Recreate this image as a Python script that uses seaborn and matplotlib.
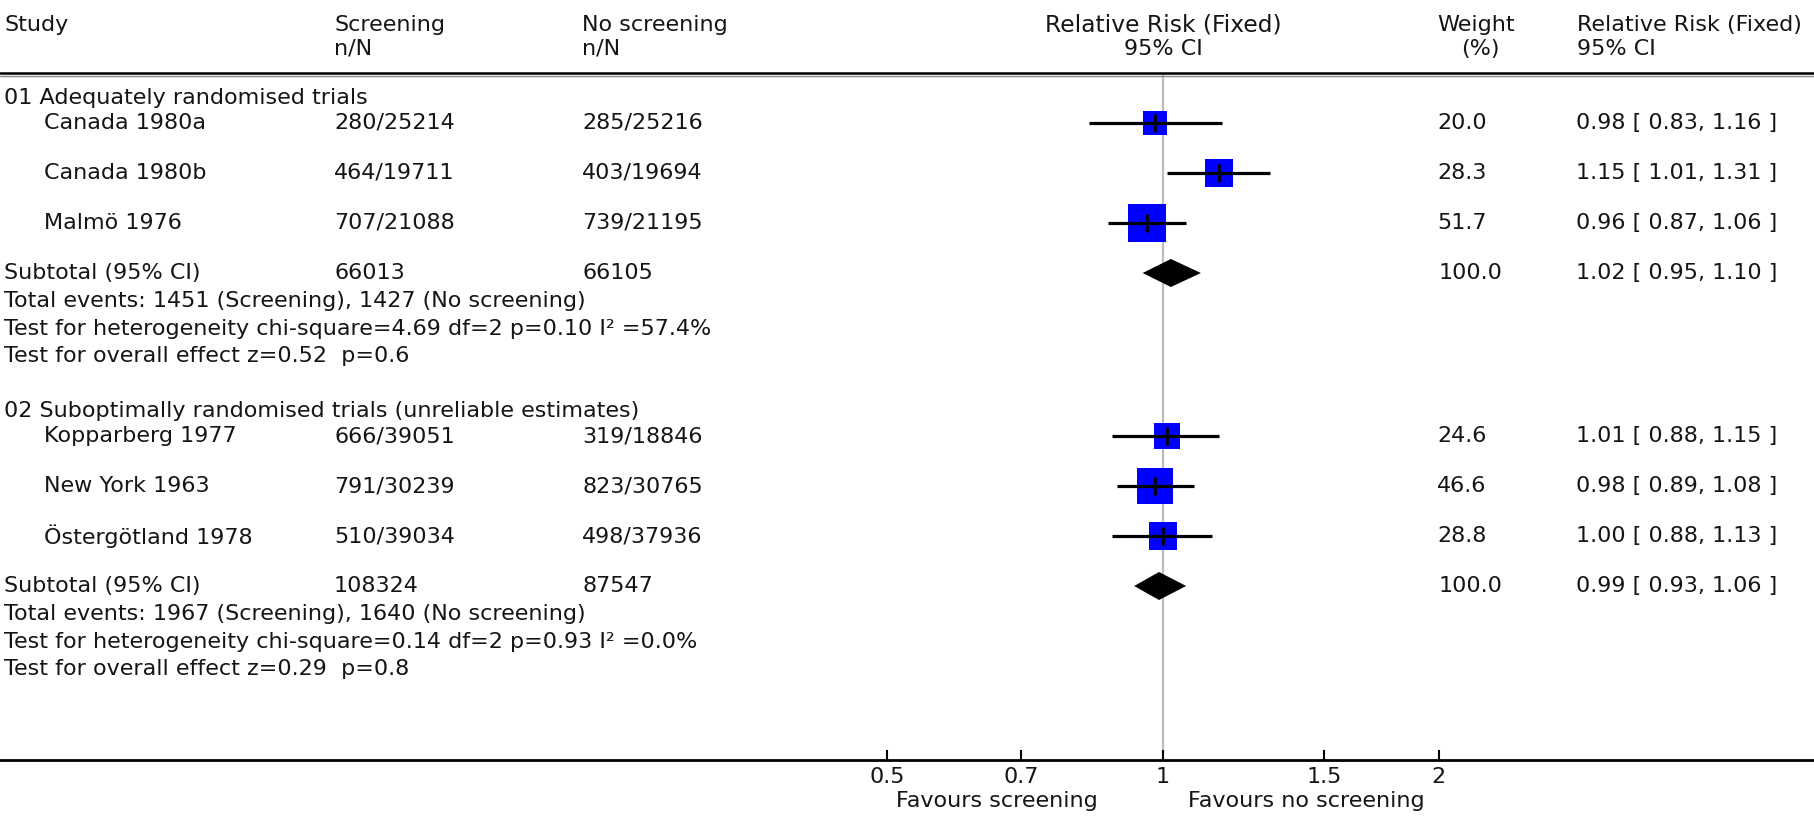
import numpy as np
import pandas as pd
import seaborn as sns
import matplotlib
matplotlib.use('Agg')
import matplotlib.pyplot as plt
from matplotlib import transforms

# data
groups = ['01 Adequately randomised trials',
          '02 Suboptimally randomised trials (unreliable estimates)']
studies = [['Canada 1980a', 'Canada 1980b', 'Malmö 1976'],
           ['Kopparberg 1977', 'New York 1963', 'Östergötland 1978']]
screen_nN = [['280/25214', '464/19711', '707/21088'],
             ['666/39051', '791/30239', '510/39034']]
noscreen_nN = [['285/25216', '403/19694', '739/21195'],
               ['319/18846', '823/30765', '498/37936']]
rr = [[0.98, 1.15, 0.96], [1.01, 0.98, 1.00]]
rr_lo = [[0.83, 1.01, 0.87], [0.88, 0.89, 0.88]]
rr_hi = [[1.16, 1.31, 1.06], [1.15, 1.08, 1.13]]
weight = [[20.0, 28.3, 51.7], [24.6, 46.6, 28.8]]
sub_screen_N = ['66013', '108324']
sub_noscreen_N = ['66105', '87547']
sub_rr = [1.02, 0.99]
sub_lo = [0.95, 0.93]
sub_hi = [1.10, 1.06]
total_events = ['Total events: 1451 (Screening), 1427 (No screening)',
                'Total events: 1967 (Screening), 1640 (No screening)']
heterogeneity = ['Test for heterogeneity chi-square=4.69 df=2 p=0.10 I\u00b2 =57.4%',
                 'Test for heterogeneity chi-square=0.14 df=2 p=0.93 I\u00b2 =0.0%']
overall = ['Test for overall effect z=0.52  p=0.6',
           'Test for overall effect z=0.29  p=0.8']
xticks = [0.5, 0.7, 1, 1.5, 2]
xtick_labels = ['0.5', '0.7', '1', '1.5', '2']

# layout (pixels)
W, H = 1814, 817
AXIS_Y = 760
X_ONE = 1163
PX_PER_LN = 397.5
FS = 16

sns.set_style('white')
plt.rcParams['font.family'] = ['DejaVu Sans']

fig = plt.figure(figsize=(W / 100, H / 100), dpi=100)
ax = fig.add_axes([0, (H - AXIS_Y) / H, 1, AXIS_Y / H])
ax.set_xscale('log')
ax.set_xlim(np.exp(-X_ONE / PX_PER_LN), np.exp((W - X_ONE) / PX_PER_LN))
ax.set_ylim(AXIS_Y, 0)

tr = transforms.blended_transform_factory(fig.transFigure, ax.transData)


def put(px, y, s, ha='left', fs=FS):
    ax.text(px / W, y, s, transform=tr, ha=ha, va='center', fontsize=fs, color='#151515')


# build row positions
rows = []
subs = []
labels_y = []
y = 98
for g in range(len(groups)):
    labels_y.append(y)
    y += 25
    for i in range(len(studies[g])):
        rows.append(dict(group=g, study=studies[g][i], s_nN=screen_nN[g][i], n_nN=noscreen_nN[g][i],
                         rr=rr[g][i], lo=rr_lo[g][i], hi=rr_hi[g][i], weight=weight[g][i], y=y))
        y += 50
    subs.append(y)
    y += 83 + 55
df = pd.DataFrame(rows)

# header
put(4, 25, 'Study')
put(334, 25, 'Screening')
put(334, 49, 'n/N')
put(582, 25, 'No screening')
put(582, 49, 'n/N')
put(X_ONE, 25, 'Relative Risk (Fixed)', ha='center', fs=16.8)
put(X_ONE, 49, '95% CI', ha='center')
put(1476, 25, 'Weight', ha='center')
put(1480, 49, '(%)', ha='center')
put(1577, 25, 'Relative Risk (Fixed)')
put(1577, 49, '95% CI')
ax.axhline(73, color='black', lw=1.8)
ax.axhline(75.5, color='#888888', lw=1.0)

# reference line at RR = 1
ax.vlines(1, 74, AXIS_Y, color='#bdbdbd', lw=1.6, zorder=0)

# study rows
sns.scatterplot(data=df, x='rr', y='y', size='weight', sizes=(0, 1429), size_norm=(0, 100),
                marker='s', color='#0000ff', linewidth=0, legend=False, zorder=3, ax=ax)
ax.hlines(df['y'], df['lo'], df['hi'], color='black', lw=2.3, zorder=4)
ax.scatter(df['rr'], df['y'], marker='|', s=150, color='black', linewidths=2, zorder=5)

for _, r in df.iterrows():
    put(44, r['y'], r['study'])
    put(334, r['y'], r['s_nN'])
    put(582, r['y'], r['n_nN'])
    put(1437, r['y'], f"{r['weight']:.1f}")
    put(1576, r['y'], f"{r['rr']:.2f} [ {r['lo']:.2f}, {r['hi']:.2f} ]")

for g in range(len(groups)):
    put(4, labels_y[g], groups[g])
    sy = subs[g]
    ax.fill([sub_lo[g], sub_rr[g], sub_hi[g], sub_rr[g]], [sy, sy - 14, sy, sy + 14],
            color='black', lw=0, zorder=3)
    put(4, sy, 'Subtotal (95% CI)')
    put(334, sy, sub_screen_N[g])
    put(582, sy, sub_noscreen_N[g])
    put(1439, sy, '100.0')
    put(1576, sy, f"{sub_rr[g]:.2f} [ {sub_lo[g]:.2f}, {sub_hi[g]:.2f} ]")
    put(4, sy + 28, total_events[g])
    put(4, sy + 56, heterogeneity[g])
    put(4, sy + 83, overall[g])

# axis
ax.set_xticks(xticks)
ax.set_xticklabels(xtick_labels)
ax.xaxis.set_minor_locator(matplotlib.ticker.NullLocator())
ax.tick_params(axis='x', which='major', direction='in', length=7, width=1.5, pad=5,
               labelsize=FS, color='black', labelcolor='#151515', bottom=True)
ax.set_yticks([])
for side in ['top', 'left', 'right']:
    ax.spines[side].set_visible(False)
ax.spines['bottom'].set_linewidth(2)
ax.spines['bottom'].set_color('black')
ax.set_xlabel('')
ax.set_ylabel('')

fig.text(1098 / W, (H - 801) / H, 'Favours screening', ha='right', va='center', fontsize=FS, color='#151515')
fig.text(1188 / W, (H - 801) / H, 'Favours no screening', ha='left', va='center', fontsize=FS, color='#151515')

fig.savefig('out.png', dpi=100)
